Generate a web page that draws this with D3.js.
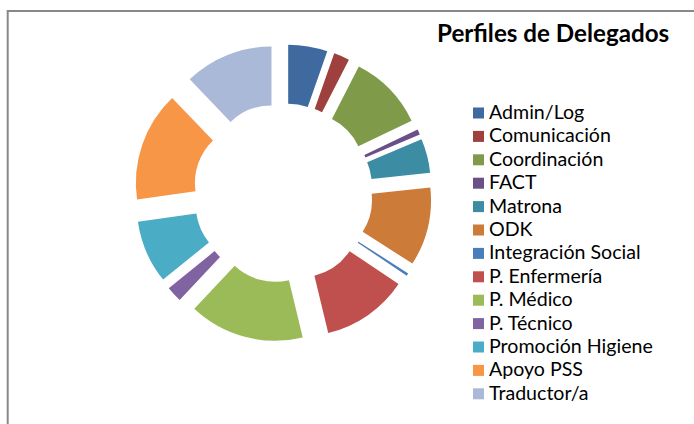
<!DOCTYPE html>
<html>
<head>
<meta charset="utf-8">
<script src="https://cdn.jsdelivr.net/npm/d3@7"></script>
<style>
  html, body { margin: 0; padding: 0; background: #fff; }
  svg { display: block; }
</style>
</head>
<body>
<svg id="chart" width="694" height="424"></svg>
<script>
const categories = [
  'Admin/Log', 'Comunicación', 'Coordinación', 'FACT', 'Matrona', 'ODK',
  'Integración Social', 'P. Enfermería', 'P. Médico', 'P. Técnico',
  'Promoción Higiene', 'Apoyo PSS', 'Traductor/a'
];
const values = [15, 6, 29, 2, 13, 30, 1, 33, 44, 6, 24, 42, 34];
const colors = [
  '#3f6a9f', '#9e403d', '#7f9b4a', '#6a4f89', '#3c8da3', '#cc7b39',
  '#4a7ebb', '#c0504d', '#9bbb59', '#8064a2', '#4bacc6', '#f79646', '#aab9d7'
];
const title = 'Perfiles de Delegados';

const svg = d3.select('#chart');

// chart area frame (only top/left edges fall inside the picture)
svg.append('rect')
  .attr('x', 7.7)
  .attr('y', 11)
  .attr('width', 720)
  .attr('height', 440)
  .attr('fill', '#fff')
  .attr('stroke', '#888')
  .attr('stroke-width', 2);

const data = categories.map((c, i) => ({ name: c, value: values[i], color: colors[i] }));

const cx = 283;
const cy = 193;
const outerR = 118;
const innerR = 59;
const explode = 30.8;

const pie = d3.pie()
  .sort(null)
  .value(d => d.value)
  .startAngle(0)
  .endAngle(2 * Math.PI);

const arc = d3.arc()
  .innerRadius(innerR)
  .outerRadius(outerR);

const ring = svg.append('g')
  .attr('transform', `translate(${cx},${cy})`);

ring.selectAll('path')
  .data(pie(data))
  .enter()
  .append('path')
  .attr('d', arc)
  .attr('fill', d => d.data.color)
  .attr('transform', d => {
    // exploded slices: push each one out along its bisector
    const a = (d.startAngle + d.endAngle) / 2;
    return `translate(${explode * Math.sin(a)},${-explode * Math.cos(a)})`;
  });

// title
svg.append('text')
  .attr('x', 437)
  .attr('y', 41.5)
  .attr('font-family', 'Lato, sans-serif')
  .attr('font-weight', 'bold')
  .attr('font-size', 24.2)
  .attr('fill', '#000')
  .text(title);

// legend
const rowY = d3.scaleLinear()
  .domain([0, categories.length - 1])
  .range([119, 119 + 23.4 * (categories.length - 1)]);

const legend = svg.append('g');

const rows = legend.selectAll('g')
  .data(data)
  .enter()
  .append('g')
  .attr('transform', (d, i) => `translate(0,${rowY(i)})`);

rows.append('rect')
  .attr('x', 473)
  .attr('y', -11.5)
  .attr('width', 11)
  .attr('height', 11)
  .attr('fill', d => d.color);

rows.append('text')
  .attr('x', 489)
  .attr('y', 0)
  .attr('font-family', 'Lato, sans-serif')
  .attr('font-size', 19.6)
  .attr('fill', '#000')
  .text(d => d.name);
</script>
</body>
</html>
